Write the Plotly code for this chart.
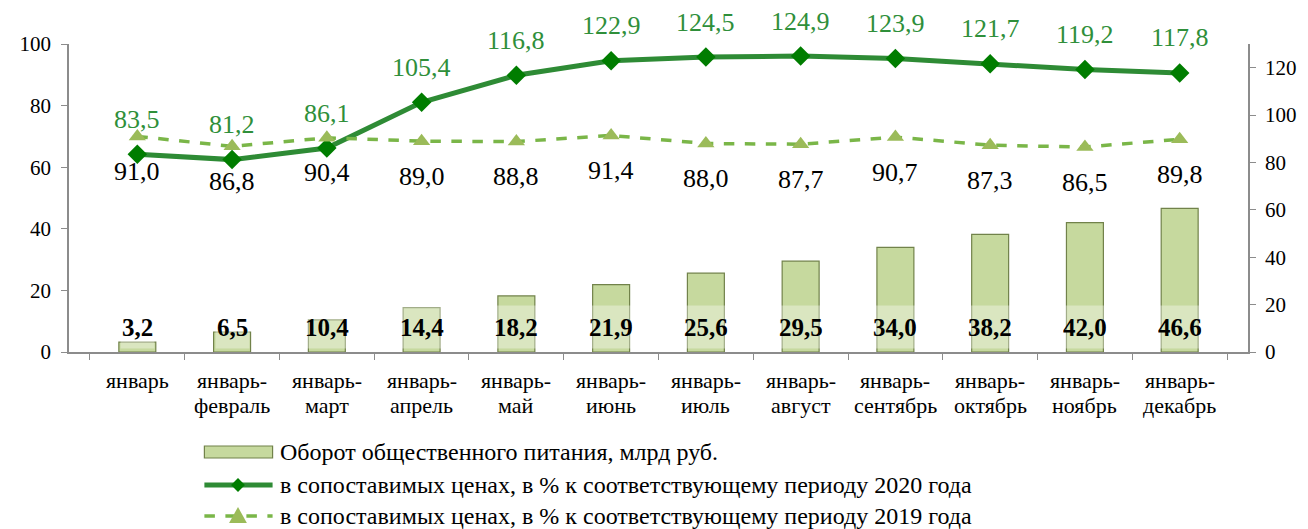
import plotly.graph_objects as go

periods = ["январь", "январь-февраль", "январь-март", "январь-апрель", "январь-май",
           "январь-июнь", "январь-июль", "январь-август", "январь-сентябрь",
           "январь-октябрь", "январь-ноябрь", "январь-декабрь"]
turnover = [3.2, 6.5, 10.4, 14.4, 18.2, 21.9, 25.6, 29.5, 34.0, 38.2, 42.0, 46.6]
vs_2020 = [83.5, 81.2, 86.1, 105.4, 116.8, 122.9, 124.5, 124.9, 123.9, 121.7, 119.2, 117.8]
vs_2019 = [91.0, 86.8, 90.4, 89.0, 88.8, 91.4, 88.0, 87.7, 90.7, 87.3, 86.5, 89.8]
legend_names = ["Оборот общественного питания, млрд руб.",
                "в сопоставимых ценах, в % к соответствующему периоду 2020 года",
                "в сопоставимых ценах, в % к соответствующему периоду 2019 года"]

FONT = "Liberation Serif"
DARK = "#2e8b35"
LIGHT = "#7ab648"

# plot area on screen (page has an 8px body margin)
FIG_W, FIG_H = 1300, 545
PX_L, PX_R, PX_T, PX_B = 60, 1253, 44, 352


def px(sx):
    return (sx - PX_L) / (PX_R - PX_L)


def py(sy):
    return (PX_B - sy) / (PX_B - PX_T)


def ru(v):
    return f"{v:.1f}".replace(".", ",")


fig = go.Figure()
fig.add_trace(go.Bar(
    x=periods, y=turnover, width=0.39, name=legend_names[0],
    marker=dict(color="#c6d99e", line=dict(color="#71824a", width=1.2)),
    hoverinfo="skip",
))
fig.add_trace(go.Scatter(
    x=periods, y=vs_2020, yaxis="y2", mode="lines+markers", name=legend_names[1],
    line=dict(color=DARK, width=5),
    marker=dict(symbol="diamond", size=15, color="#007d00"),
))
fig.add_trace(go.Scatter(
    x=periods, y=vs_2019, yaxis="y2", mode="lines+markers", name=legend_names[2],
    line=dict(color=LIGHT, width=3.5, dash="dash"),
    marker=dict(symbol="triangle-up", size=15, color="#9bbb59"),
))

# data labels
for p, v in zip(periods, turnover):
    fig.add_annotation(x=p, y=8, yref="y", text=f"<b>{ru(v)}</b>", showarrow=False,
                       font=dict(family=FONT, size=25, color="black"),
                       bgcolor="rgba(255,255,255,0.35)", height=40)
for p, v in zip(periods, vs_2020):
    fig.add_annotation(x=p, y=v, yref="y2", yshift=35, text=ru(v), showarrow=False,
                       font=dict(family=FONT, size=26, color="#2f8f3a"))
for p, v in zip(periods, vs_2019):
    fig.add_annotation(x=p, y=v, yref="y2", yshift=-35, text=ru(v), showarrow=False,
                       font=dict(family=FONT, size=26, color="black"))

# category labels, two lines with tight spacing
for p in periods:
    head, _, tail = p.partition("-")
    lines = [head + "-", tail] if tail else [head]
    for k, line in enumerate(lines):
        fig.add_annotation(x=p, xref="x", yref="paper", y=py(380 + 25 * k), text=line,
                           showarrow=False, yanchor="middle",
                           font=dict(family=FONT, size=22, color="black"))

# hand-drawn legend below the plot
rows = [452, 485, 516]
sym_x0, sym_x1, mark_x = 197, 266, 231
fig.add_shape(type="rect", xref="paper", yref="paper",
              x0=px(sym_x0), x1=px(sym_x1), y0=py(rows[0] + 6), y1=py(rows[0] - 6),
              fillcolor="#c6d99e", line=dict(color="#71824a", width=1.2))
fig.add_shape(type="line", xref="paper", yref="paper",
              x0=px(sym_x0), x1=px(sym_x1), y0=py(rows[1]), y1=py(rows[1]),
              line=dict(color=DARK, width=5))
fig.add_shape(type="line", xref="paper", yref="paper",
              x0=px(sym_x0), x1=px(sym_x1), y0=py(rows[2]), y1=py(rows[2]),
              line=dict(color=LIGHT, width=3.5, dash="dash"))
d = 7
fig.add_shape(type="path", xref="paper", yref="paper", line=dict(width=0),
              fillcolor="#007d00",
              path=(f"M{px(mark_x - d)},{py(rows[1])} L{px(mark_x)},{py(rows[1] - d)} "
                    f"L{px(mark_x + d)},{py(rows[1])} L{px(mark_x)},{py(rows[1] + d)} Z"))
fig.add_shape(type="path", xref="paper", yref="paper", line=dict(width=0),
              fillcolor="#9bbb59",
              path=(f"M{px(mark_x - 9)},{py(rows[2] + 7)} L{px(mark_x)},{py(rows[2] - 9)} "
                    f"L{px(mark_x + 9)},{py(rows[2] + 7)} Z"))
for name, row in zip(legend_names, rows):
    fig.add_annotation(xref="paper", yref="paper", x=px(271), y=py(row), text=name,
                       xanchor="left", yanchor="middle", showarrow=False,
                       font=dict(family=FONT, size=24, color="black"))

axis_common = dict(showgrid=False, zeroline=False, showline=True, linecolor="#8c8c8c",
                   linewidth=1.5, ticks="outside", ticklen=6, tickcolor="#8c8c8c",
                   tickfont=dict(family=FONT, size=21, color="black"))

fig.update_layout(
    width=FIG_W, height=FIG_H,
    margin=dict(l=PX_L - 8, r=FIG_W - PX_R + 8, t=PX_T - 8, b=FIG_H - PX_B + 8),
    paper_bgcolor="white", plot_bgcolor="white",
    font=dict(family=FONT, color="black"),
    showlegend=False,
    xaxis=dict(axis_common, tickson="boundaries", type="category", showticklabels=False),
    yaxis=dict(axis_common, range=[0, 100], dtick=20, ticklabelstandoff=6),
    yaxis2=dict(axis_common, range=[0, 130], dtick=20, overlaying="y", side="right",
                ticklabelstandoff=5),
)

fig.write_html("out.html")
